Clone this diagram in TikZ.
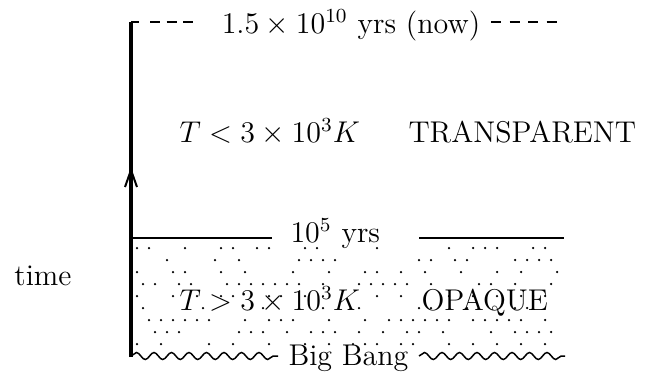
\documentclass[tikz,border=0pt]{standalone}
\usetikzlibrary{arrows.meta,decorations.pathmorphing}
\begin{document}
\begin{tikzpicture}[x=0.4pt,y=-0.4pt,
  lbl/.style={inner sep=0pt,font=\fontsize{12}{14}\selectfont},
  axisline/.style={line width=1.25pt},
  rule/.style={line width=0.9pt},
  dashrule/.style={line width=0.6pt,dash pattern=on 4pt off 2.6pt},
  wavy/.style={line width=0.6pt,decorate,decoration={snake,segment length=7pt,amplitude=1.4pt}},
  dot/.style={fill=black}]
\useasboundingbox (0,0) rectangle (660,374);
% axis
\coordinate (ab) at (131,357);
\coordinate (at) at (131,22);
\coordinate (as) at (131,200);
\coordinate (ae) at (131,167);
\draw[axisline] (ab) -- (at);
\draw[axisline,-{Straight Barb[length=6.8pt,width=4.8pt,line width=0.8pt]}] (as) -- (ae);
\coordinate (stub) at (139,22);
\draw[rule] (at) -- (stub);
% top dashes
\coordinate (d1a) at (150,22); \coordinate (d1b) at (194,22);
\coordinate (d2a) at (491,22); \coordinate (d2b) at (560,22);
\draw[dashrule] (d1a) -- (d1b);
\draw[line width=0.6pt,dash pattern=on 4pt off 3.4pt] (d2a) -- (d2b);
\node[lbl,anchor=base] (now) at (351,33) {$1.5\times10^{10}$ yrs (now)};
% dots
\pgfmathsetseed{12}
\foreach \i in {0,...,8}{
  \foreach \j in {0,...,35}{
    \pgfmathsetmacro\r{rnd}
    \pgfmathsetmacro\xx{137+12*\j+6*mod(\i,2)}
    \ifdim\r pt<0.5pt \ifdim\xx pt<564pt
      \fill[dot] (\xx,248+12*\i) circle[radius=0.5pt];
    \fi\fi
  }
}
% transparent row
\node[lbl,anchor=base west] (tlow) at (179,142) {$T<3\times10^3K$};
\node[lbl,anchor=base west] (transp) at (408,142) {TRANSPARENT};
% 10^5 line
\coordinate (l1a) at (131,238); \coordinate (l1b) at (272,238);
\coordinate (l2a) at (419,238); \coordinate (l2b) at (564,238);
\draw[rule] (l1a) -- (l1b);
\draw[rule] (l2a) -- (l2b);
\node[lbl,anchor=base west] (yrs) at (290,242) {$10^5$ yrs};
% opaque row
\node[lbl,anchor=base west] (thigh) at (179,310) {$T>3\times10^3K$};
\node[lbl,anchor=base west] (opaque) at (421,310) {OPAQUE};
% time
\node[lbl,anchor=base east] (time) at (72,285) {time};
% big bang
\coordinate (w1a) at (131,356); \coordinate (w1b) at (278,356);
\coordinate (w2a) at (419,356); \coordinate (w2b) at (565,356);
\draw[wavy] (w1a) -- (w1b);
\draw[wavy] (w2a) -- (w2b);
\node[lbl,anchor=base west] (bb) at (288,365) {Big Bang};
\end{tikzpicture}
\end{document}
